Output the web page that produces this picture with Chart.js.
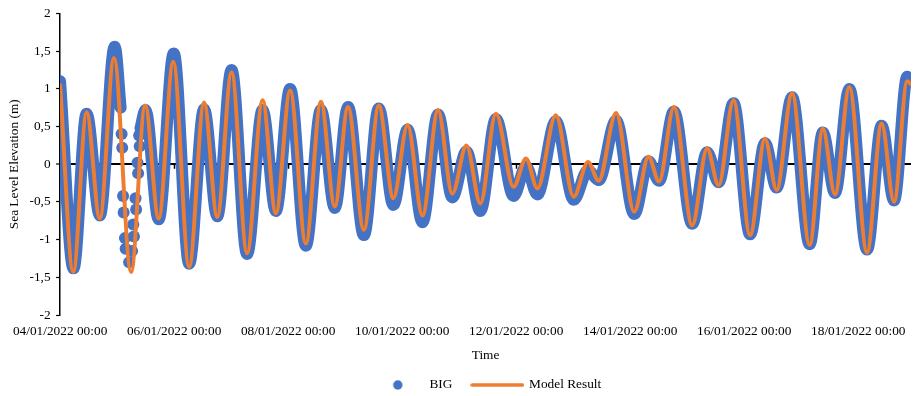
<!DOCTYPE html>
<html>
<head>
<meta charset="utf-8">
<script src="https://cdn.jsdelivr.net/npm/chart.js@4/dist/chart.umd.min.js"></script>
<style>
  html, body { margin: 0; padding: 0; background: #fff; }
  #c { display: block; }
</style>
</head>
<body>
<canvas id="c" width="917" height="396"></canvas>
<script>
// ---- Data (time in hours since 04/01/2022 00:00) ----
const xTickLabels = ['04/01/2022 00:00', '06/01/2022 00:00', '08/01/2022 00:00', '10/01/2022 00:00',
  '12/01/2022 00:00', '14/01/2022 00:00', '16/01/2022 00:00', '18/01/2022 00:00'];
const yTickValues = [-2, -1.5, -1, -0.5, 0, 0.5, 1, 1.5, 2];

// Model Result: turning points of the simulated water level
const modelTimes = [0, 5.56, 11.16, 16.72, 22.69, 29.88, 35.82, 41.50, 47.64, 54.33,
  60.60, 66.16, 72.18, 78.70, 85.26, 90.82, 96.84, 103.44, 109.79, 115.64,
  121.20, 127.89, 134.16, 140.30, 146.28, 152.54, 159.11, 165.08, 171.06, 176.91,
  183.47, 190.87, 196.14, 200.90, 208.68, 216.20, 222.22, 226.73, 234.04, 241.69,
  247.71, 252.14, 258.41, 266.10, 272.37, 277.22, 283.48, 290.46, 296.73, 301.62,
  308.14, 315.54, 321.10, 326.19, 332.25, 339.69, 345.84, 351.06, 356.61, 358.2];
const modelValues = [1.05, -1.43, 0.69, -0.72, 1.41, -1.43, 0.78, -0.72, 1.36, -1.36,
  0.82, -0.70, 1.22, -1.18, 0.85, -0.65, 0.98, -1.05, 0.83, -0.56,
  0.76, -0.87, 0.78, -0.45, 0.52, -0.68, 0.72, -0.39, 0.25, -0.52,
  0.67, -0.30, 0.075, -0.32, 0.65, -0.43, 0.03, -0.22, 0.68, -0.63,
  0.10, -0.23, 0.76, -0.81, 0.21, -0.28, 0.85, -0.94, 0.34, -0.34,
  0.94, -1.07, 0.47, -0.40, 1.02, -1.17, 0.54, -0.50, 1.10, 1.06];

// BIG observations: dense record (turning points), null = gap in the record
const bigTimes = [0, 5.64, 11.16, 16.72, 22.99, 25.49, 25.6, 33.85, 35.94, 41.50,
  47.85, 54.33, 60.60, 66.16, 72.18, 78.70, 85.26, 90.82, 96.84, 103.44,
  109.79, 115.64, 121.20, 127.89, 134.16, 140.30, 146.28, 152.54, 159.11, 165.08,
  171.06, 176.91, 183.47, 190.87, 196.14, 200.90, 208.68, 216.20, 222.22, 226.73,
  234.04, 241.69, 247.71, 252.14, 258.41, 266.10, 272.37, 277.22, 283.48, 290.46,
  296.73, 301.62, 308.14, 315.54, 321.10, 326.19, 332.25, 339.69, 345.84, 351.06,
  356.61, 358.2];
const bigValues = [1.10, -1.38, 0.67, -0.68, 1.56, 0.75, null, 0.48, 0.72, -0.73,
  1.47, -1.32, 0.73, -0.69, 1.25, -1.19, 0.72, -0.62, 1.00, -1.08,
  0.72, -0.58, 0.76, -0.94, 0.74, -0.54, 0.46, -0.77, 0.66, -0.44,
  0.17, -0.62, 0.60, -0.42, -0.03, -0.40, 0.57, -0.47, -0.08, -0.21,
  0.58, -0.66, 0.04, -0.22, 0.70, -0.79, 0.16, -0.24, 0.81, -0.93,
  0.28, -0.31, 0.89, -1.06, 0.42, -0.38, 1.00, -1.13, 0.51, -0.48,
  1.16, 1.10];
// BIG isolated samples inside the sparse stretch (05/01)
const bigSparseTimes = [25.91, 26.16, 26.50, 26.75, 27.29, 27.58, 29.05, 30.30, 30.80, 31.09,
  31.76, 32.01, 32.60, 32.85, 33.27, 33.52];
const bigSparseValues = [0.40, 0.22, -0.42, -0.64, -0.98, -1.12, -1.30, -1.15, -0.80, -0.96,
  -0.45, -0.60, 0.02, -0.12, 0.38, 0.24];

// ---- Styling ----
const BLUE = '#4472C4';
const ORANGE = '#ED7D31';
const FONT = "'Liberation Serif', 'Times New Roman', serif";
const FS = 13.33;

Chart.defaults.font.family = FONT;
Chart.defaults.font.size = FS;
Chart.defaults.color = '#000';

const toXY = (ts, vs) => ts.map((t, i) => ({ x: t, y: vs[i] }));

// legend markers
function makeDot() {
  const c = document.createElement('canvas');
  c.width = 50; c.height = 12;
  const g = c.getContext('2d');
  g.fillStyle = BLUE;
  g.beginPath(); g.arc(25, 6, 4.7, 0, Math.PI * 2); g.fill();
  return c;
}
function makeLine() {
  const c = document.createElement('canvas');
  c.width = 54; c.height = 8;
  const g = c.getContext('2d');
  g.strokeStyle = ORANGE; g.lineWidth = 3.7; g.lineCap = 'round';
  g.beginPath(); g.moveTo(2, 4); g.lineTo(52, 4); g.stroke();
  return c;
}
const dotMarker = makeDot();
const lineMarker = makeLine();

const zeroLineTicks = {
  id: 'zeroLineTicks',
  beforeDatasetsDraw(chart) {
    const { ctx, scales: { x, y } } = chart;
    const y0 = y.getPixelForValue(0);
    ctx.save();
    ctx.strokeStyle = '#000';
    ctx.lineWidth = 1.5;
    x.ticks.forEach(t => {
      if (t.value === 0) return;
      const px = Math.round(x.getPixelForValue(t.value)) + 0.5;
      ctx.beginPath();
      ctx.moveTo(px, y0);
      ctx.lineTo(px, y0 + 4.5);
      ctx.stroke();
    });
    ctx.restore();
  }
};

const legendShift = {
  id: 'legendShift',
  afterLayout(chart) {
    const l = chart.legend;
    l.left += 28.5; l.right += 28.5;
    l.top -= 4.7; l.bottom -= 4.7;
  }
};

new Chart(document.getElementById('c'), {
  type: 'line',
  data: {
    datasets: [
      {
        label: 'Model Result',
        data: toXY(modelTimes, modelValues),
        borderColor: ORANGE,
        borderWidth: 4,
        pointRadius: 0,
        cubicInterpolationMode: 'monotone',
        borderCapStyle: 'round',
        borderJoinStyle: 'round',
        fill: false,
        order: 0
      },
      {
        label: 'BIG',
        data: toXY(bigTimes, bigValues),
        borderColor: BLUE,
        borderWidth: 12,
        pointRadius: 0,
        cubicInterpolationMode: 'monotone',
        borderCapStyle: 'round',
        borderJoinStyle: 'round',
        spanGaps: false,
        fill: false,
        order: 1
      },
      {
        label: 'BIG samples',
        data: toXY(bigSparseTimes, bigSparseValues),
        showLine: false,
        pointRadius: 6,
        pointBorderWidth: 0,
        pointBackgroundColor: BLUE,
        pointBorderColor: BLUE,
        order: 2
      }
    ]
  },
  options: {
    responsive: false,
    animation: false,
    devicePixelRatio: 1,
    layout: { padding: { top: 13.5, left: 0, right: 0, bottom: 0 } },
    scales: {
      x: {
        type: 'linear',
        min: 0,
        max: 358.2,
        grid: { display: false, drawTicks: false },
        border: { display: false },
        ticks: {
          stepSize: 48,
          includeBounds: false,
          autoSkip: false,
          maxRotation: 0,
          padding: 8,
          color: '#000',
          font: { family: FONT, size: FS },
          callback: (v) => xTickLabels[Math.round(v / 48)]
        },
        title: {
          display: true,
          text: 'Time',
          color: '#000',
          font: { family: FONT, size: FS },
          padding: { top: 0, bottom: 0 }
        }
      },
      y: {
        min: -2,
        max: 2,
        afterBuildTicks: (scale) => { scale.ticks = yTickValues.map(v => ({ value: v })); },
        grid: {
          drawOnChartArea: true,
          drawTicks: true,
          tickLength: 4,
          tickColor: '#000',
          tickWidth: 1.2,
          color: (c) => (c.tick && c.tick.value === 0 ? '#000' : 'rgba(0,0,0,0)'),
          lineWidth: (c) => (c.tick && c.tick.value === 0 ? 2 : 1)
        },
        border: { display: true, color: '#000', width: 1.5 },
        ticks: {
          padding: 5.5,
          color: '#000',
          font: { family: FONT, size: FS },
          callback: (v) => String(v).replace('.', ',')
        },
        title: {
          display: true,
          text: 'Sea Level Elevation (m)',
          color: '#000',
          font: { family: FONT, size: FS },
          padding: { top: 6, bottom: 2 }
        }
      }
    },
    plugins: {
      tooltip: { enabled: false },
      legend: {
        display: true,
        position: 'bottom',
        maxHeight: 33,
        labels: {
          usePointStyle: true,
          pointStyleWidth: 50,
          padding: 20,
          color: '#000',
          font: { family: FONT, size: FS },
          generateLabels: () => [
            { text: 'BIG', pointStyle: dotMarker, fillStyle: BLUE, strokeStyle: BLUE, lineWidth: 0, hidden: false, datasetIndex: 1, fontColor: '#000' },
            { text: 'Model Result', pointStyle: lineMarker, fillStyle: ORANGE, strokeStyle: ORANGE, lineWidth: 0, hidden: false, datasetIndex: 0, fontColor: '#000' }
          ]
        }
      }
    }
  },
  plugins: [zeroLineTicks, legendShift]
});
</script>
</body>
</html>
